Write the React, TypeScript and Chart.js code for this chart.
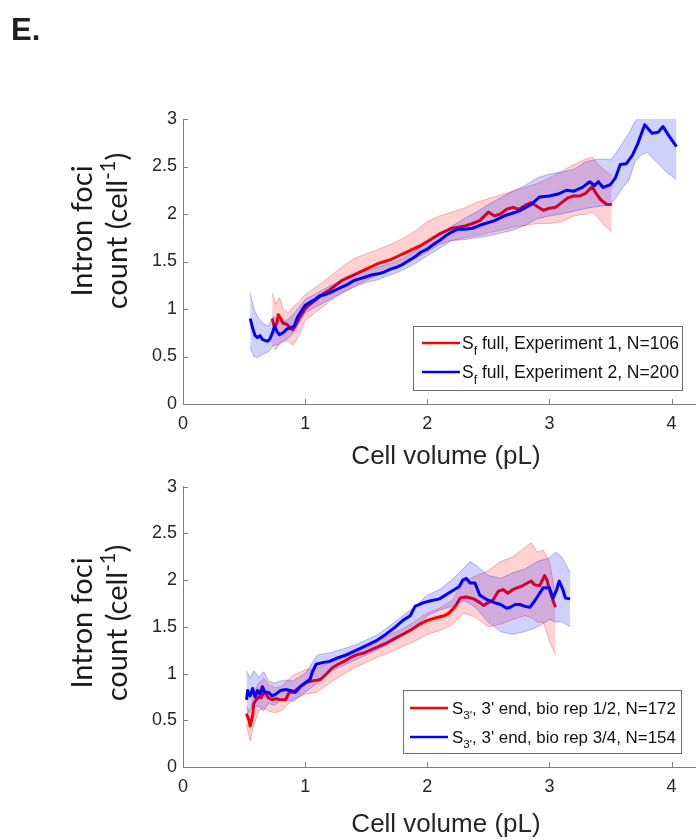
import React, { useEffect, useRef } from 'react';
import { Chart, registerables } from 'chart.js';

Chart.register(...registerables);

// ---------------- DATA ----------------
const X_TICKS = [0, 1, 2, 3, 4];
const Y_TICKS = [0, 0.5, 1, 1.5, 2, 2.5, 3];
const X_TITLE = 'Cell volume (pL)';
const Y_TITLE_1 = 'Intron foci';
const Y_TITLE_2 = 'count (cell';
const Y_TITLE_SUP = '-1';
const PANEL_LABEL = 'E.';

// Legend labels (main, subscript, rest)
const TOP_RED_LABEL = ['S', 'f', ' full, Experiment 1, N=106'];
const TOP_BLUE_LABEL = ['S', 'f', ' full, Experiment 2, N=200'];
const BOT_RED_LABEL = ['S', "3'", ", 3' end, bio rep 1/2, N=172"];
const BOT_BLUE_LABEL = ['S', "3'", ", 3' end, bio rep 3/4, N=154"];

// Top panel, red (Experiment 1)
const TOP_RED_X = [0.73,0.75,0.77,0.78,0.80,0.82,0.85,0.88,0.90,0.93,0.96,1.00,1.04,1.08,1.12,1.16,1.20,1.25,1.30,1.35,1.40,1.45,1.50,1.55,1.60,1.65,1.70,1.75,1.80,1.85,1.90,1.95,2.00,2.05,2.10,2.15,2.20,2.25,2.30,2.37,2.43,2.50,2.55,2.60,2.65,2.70,2.75,2.80,2.85,2.90,2.95,3.00,3.05,3.10,3.15,3.20,3.25,3.30,3.35,3.38,3.42,3.47,3.51];
const TOP_RED_Y = [0.90,0.80,0.86,0.94,0.90,0.85,0.84,0.80,0.78,0.85,0.92,1.00,1.05,1.09,1.13,1.17,1.20,1.25,1.30,1.33,1.36,1.39,1.42,1.45,1.48,1.50,1.52,1.55,1.58,1.61,1.64,1.67,1.71,1.75,1.79,1.82,1.85,1.86,1.87,1.90,1.93,2.02,1.98,2.00,2.05,2.07,2.05,2.09,2.12,2.08,2.04,2.06,2.07,2.12,2.17,2.19,2.19,2.22,2.29,2.22,2.15,2.10,2.10];
const TOP_RED_BAND_X = [0.73,0.76,0.79,0.82,0.86,0.90,0.95,1.00,1.10,1.20,1.30,1.40,1.50,1.60,1.70,1.80,1.90,2.00,2.10,2.20,2.30,2.40,2.50,2.60,2.70,2.80,2.90,3.00,3.10,3.20,3.30,3.35,3.40,3.45,3.51];
const TOP_RED_HI = [1.17,1.05,1.12,1.00,0.96,1.02,1.08,1.15,1.24,1.34,1.44,1.53,1.58,1.63,1.68,1.74,1.82,1.92,1.98,2.02,2.06,2.12,2.16,2.20,2.24,2.28,2.32,2.38,2.45,2.52,2.58,2.60,2.52,2.46,2.40];
const TOP_RED_LO = [0.62,0.57,0.64,0.66,0.66,0.62,0.72,0.88,0.98,1.08,1.16,1.24,1.30,1.36,1.42,1.47,1.53,1.60,1.68,1.72,1.75,1.77,1.80,1.83,1.86,1.88,1.90,1.90,1.92,1.98,2.00,2.02,1.96,1.88,1.81];

// Top panel, blue (Experiment 2)
const TOP_BLUE_X = [0.55,0.57,0.59,0.61,0.63,0.65,0.67,0.69,0.71,0.73,0.75,0.77,0.79,0.82,0.85,0.88,0.91,0.94,0.97,1.00,1.04,1.08,1.12,1.16,1.20,1.25,1.30,1.35,1.40,1.45,1.50,1.55,1.60,1.65,1.70,1.75,1.80,1.85,1.90,1.95,2.00,2.05,2.10,2.15,2.20,2.25,2.30,2.37,2.45,2.55,2.65,2.75,2.85,2.92,3.00,3.07,3.14,3.20,3.27,3.33,3.37,3.40,3.44,3.50,3.54,3.58,3.63,3.68,3.72,3.78,3.84,3.89,3.93,3.98,4.04];
const TOP_BLUE_Y = [0.90,0.80,0.72,0.70,0.72,0.68,0.67,0.66,0.68,0.74,0.82,0.76,0.73,0.75,0.79,0.80,0.82,0.92,0.98,1.04,1.07,1.10,1.14,1.15,1.17,1.20,1.23,1.26,1.30,1.32,1.34,1.36,1.37,1.39,1.42,1.44,1.47,1.51,1.55,1.60,1.63,1.68,1.72,1.77,1.81,1.84,1.84,1.85,1.89,1.93,1.99,2.03,2.10,2.18,2.19,2.21,2.25,2.24,2.28,2.34,2.30,2.34,2.28,2.31,2.38,2.52,2.53,2.62,2.73,2.94,2.85,2.86,2.92,2.82,2.71];
const TOP_BLUE_BAND_X = [0.55,0.58,0.61,0.65,0.70,0.74,0.78,0.82,0.87,0.92,1.00,1.10,1.20,1.30,1.40,1.50,1.60,1.70,1.80,1.90,2.00,2.10,2.20,2.30,2.40,2.50,2.60,2.70,2.80,2.90,3.00,3.10,3.20,3.30,3.40,3.50,3.55,3.60,3.65,3.70,3.75,3.80,3.85,3.90,3.95,4.00,4.04];
const TOP_BLUE_HI = [1.17,1.00,0.92,0.85,0.82,0.92,0.88,0.86,0.90,0.97,1.10,1.17,1.24,1.30,1.36,1.40,1.44,1.48,1.53,1.61,1.70,1.79,1.87,1.95,2.02,2.10,2.17,2.24,2.30,2.38,2.42,2.44,2.47,2.55,2.58,2.57,2.65,2.75,2.85,2.97,3.05,3.08,3.08,3.06,3.05,3.05,3.04];
const TOP_BLUE_LO = [0.60,0.50,0.49,0.52,0.55,0.62,0.62,0.66,0.70,0.78,0.96,1.03,1.10,1.17,1.23,1.28,1.31,1.36,1.41,1.48,1.56,1.64,1.72,1.73,1.75,1.77,1.80,1.83,1.88,1.95,1.98,2.00,2.03,2.06,2.08,2.10,2.18,2.28,2.35,2.55,2.62,2.65,2.58,2.52,2.45,2.40,2.36];

// Bottom panel, red (bio rep 1/2)
const BOT_RED_X = [0.52,0.54,0.55,0.57,0.58,0.60,0.62,0.64,0.66,0.68,0.70,0.73,0.76,0.80,0.84,0.87,0.90,0.95,1.00,1.05,1.10,1.13,1.17,1.22,1.27,1.32,1.37,1.42,1.48,1.53,1.60,1.67,1.74,1.80,1.87,1.94,2.00,2.08,2.14,2.18,2.23,2.27,2.32,2.38,2.43,2.46,2.50,2.54,2.58,2.62,2.66,2.70,2.74,2.78,2.82,2.85,2.88,2.92,2.96,2.98,3.00,3.03,3.05];
const BOT_RED_Y = [0.57,0.50,0.44,0.55,0.68,0.72,0.75,0.74,0.80,0.78,0.74,0.72,0.73,0.72,0.72,0.80,0.80,0.85,0.90,0.92,0.93,0.94,0.99,1.06,1.10,1.13,1.17,1.20,1.22,1.25,1.29,1.33,1.38,1.42,1.47,1.53,1.57,1.60,1.62,1.65,1.72,1.81,1.82,1.80,1.76,1.73,1.76,1.79,1.88,1.90,1.86,1.90,1.92,1.94,1.97,1.99,1.95,1.94,2.05,2.00,1.90,1.78,1.71];
const BOT_RED_BAND_X = [0.52,0.55,0.58,0.62,0.66,0.70,0.75,0.80,0.85,0.90,1.00,1.10,1.20,1.30,1.40,1.50,1.60,1.70,1.80,1.90,2.00,2.10,2.20,2.30,2.40,2.50,2.60,2.70,2.80,2.85,2.90,2.95,3.00,3.05];
const BOT_RED_HI = [0.65,0.58,0.80,0.90,0.95,0.88,0.85,0.86,0.92,0.98,1.04,1.06,1.12,1.20,1.26,1.31,1.36,1.42,1.48,1.56,1.65,1.70,1.78,1.98,2.05,2.10,2.20,2.25,2.35,2.40,2.30,2.32,2.20,1.85];
const BOT_RED_LO = [0.45,0.28,0.45,0.60,0.63,0.60,0.58,0.60,0.66,0.72,0.78,0.80,0.90,0.98,1.06,1.12,1.18,1.23,1.29,1.35,1.42,1.46,1.52,1.65,1.60,1.50,1.53,1.58,1.62,1.60,1.55,1.55,1.35,1.20];

// Bottom panel, blue (bio rep 3/4)
const BOT_BLUE_X = [0.52,0.53,0.55,0.57,0.59,0.61,0.63,0.65,0.67,0.70,0.73,0.76,0.80,0.84,0.88,0.92,0.96,1.00,1.04,1.06,1.09,1.15,1.20,1.27,1.34,1.42,1.50,1.58,1.66,1.74,1.80,1.86,1.90,1.97,2.03,2.10,2.16,2.21,2.26,2.29,2.32,2.35,2.39,2.43,2.49,2.55,2.60,2.65,2.68,2.72,2.76,2.80,2.84,2.88,2.92,2.95,3.00,3.03,3.06,3.08,3.11,3.13,3.17];
const BOT_BLUE_Y = [0.72,0.82,0.76,0.84,0.75,0.82,0.78,0.86,0.80,0.80,0.76,0.78,0.82,0.83,0.82,0.80,0.86,0.90,0.94,1.02,1.10,1.12,1.13,1.17,1.20,1.25,1.30,1.35,1.42,1.50,1.57,1.62,1.72,1.76,1.78,1.80,1.85,1.89,1.93,2.00,2.02,1.97,1.97,1.84,1.79,1.76,1.74,1.70,1.71,1.74,1.74,1.72,1.71,1.78,1.86,1.92,1.92,1.81,1.90,1.99,1.90,1.81,1.80];
const BOT_BLUE_BAND_X = [0.52,0.55,0.58,0.62,0.66,0.70,0.75,0.80,0.85,0.90,1.00,1.10,1.20,1.30,1.40,1.50,1.60,1.70,1.80,1.90,2.00,2.10,2.20,2.30,2.35,2.40,2.50,2.60,2.70,2.80,2.90,3.00,3.05,3.10,3.17];
const BOT_BLUE_HI = [1.03,0.95,1.03,0.96,1.02,0.92,0.90,0.92,0.93,0.92,1.00,1.20,1.22,1.26,1.30,1.36,1.42,1.52,1.62,1.72,1.84,1.90,2.00,2.13,2.20,2.16,2.05,2.02,2.08,2.12,2.20,2.24,2.30,2.25,2.08];
const BOT_BLUE_LO = [0.55,0.62,0.65,0.65,0.60,0.68,0.66,0.72,0.72,0.70,0.80,0.90,1.02,1.08,1.14,1.20,1.26,1.33,1.42,1.50,1.62,1.68,1.72,1.78,1.75,1.70,1.55,1.45,1.42,1.45,1.50,1.58,1.55,1.56,1.50];

// ---------------- STYLE ----------------
const SANS = '"Liberation Sans", Arial, Helvetica, sans-serif';
const LATO = 'Lato, "Noto Sans", sans-serif';
const AXIS = '#808080';
const TEXT = '#262626';
const RED = '#ff0000';
const BLUE = '#0000ff';
const RED_FILL = 'rgba(255,0,0,0.18)';
const BLUE_FILL = 'rgba(0,0,255,0.18)';
const RED_EDGE = 'rgba(255,0,0,0.35)';
const BLUE_EDGE = 'rgba(0,0,255,0.35)';

type Part = { t: string; s?: 'sub' | 'sup' };

function partFont(p: Part, size: number, family: string) {
  const fs = p.s ? size * 0.7 : size;
  return `${fs}px ${family}`;
}
function richWidth(ctx: CanvasRenderingContext2D, parts: Part[], size: number, family: string) {
  let w = 0;
  for (const p of parts) {
    ctx.font = partFont(p, size, family);
    w += ctx.measureText(p.t).width;
  }
  return w;
}
function drawRich(ctx: CanvasRenderingContext2D, parts: Part[], x: number, y: number, size: number, family: string) {
  let cx = x;
  for (const p of parts) {
    ctx.font = partFont(p, size, family);
    const dy = p.s === 'sub' ? size * 0.32 : p.s === 'sup' ? -size * 0.4 : 0;
    ctx.fillText(p.t, cx, y + dy);
    cx += ctx.measureText(p.t).width;
  }
}
const labelParts = (l: string[]): Part[] => [{ t: l[0] }, { t: l[1], s: 'sub' }, { t: l[2] }];

const pts = (xs: number[], ys: number[]) => xs.map((x, i) => ({ x, y: ys[i] }));

interface Series {
  x: number[]; y: number[]; bx: number[]; lo: number[]; hi: number[];
  color: string; fill: string; edge: string; label: string[];
}

interface PanelProps {
  top: number;
  height: number;
  plotTop: number;
  plotBottom: number;
  red: Series;
  blue: Series;
  legendBox: [number, number, number, number];
  legendRows: [number, number];
  sampleX: [number, number];
  textX: number;
  legendFont: number;
  yTitleCenter: number;
  xTitleBaseline: number;
  showLabel?: boolean;
}

function Panel(p: PanelProps) {
  const ref = useRef<HTMLCanvasElement>(null);
  useEffect(() => {
    const canvas = ref.current!;
    const mk = (s: Series) => [
      { data: pts(s.x, s.y), borderColor: s.color, borderWidth: 3, pointRadius: 0, fill: false, tension: 0, borderJoinStyle: 'round' as const },
      { data: pts(s.bx, s.lo), borderColor: s.edge, borderWidth: 0.8, pointRadius: 0, fill: false, tension: 0 },
      { data: pts(s.bx, s.hi), borderColor: s.edge, borderWidth: 0.8, pointRadius: 0, fill: '-1', backgroundColor: s.fill, tension: 0 },
    ];
    // First dataset is drawn on top: blue group above red group
    const datasets = [...mk(p.blue), ...mk(p.red)];

    const overlay = {
      id: 'overlay',
      afterDraw(chart: any) {
        const ctx: CanvasRenderingContext2D = chart.ctx;
        const { left, bottom } = chart.chartArea;
        const xs = chart.scales.x;
        const ys = chart.scales.y;
        ctx.save();
        // inward tick marks
        ctx.strokeStyle = AXIS;
        ctx.lineWidth = 1;
        xs.ticks.forEach((t: any) => {
          const px = Math.round(xs.getPixelForValue(t.value)) + 0.5;
          ctx.beginPath(); ctx.moveTo(px, bottom); ctx.lineTo(px, bottom - 5); ctx.stroke();
        });
        ys.ticks.forEach((t: any) => {
          const py = Math.round(ys.getPixelForValue(t.value)) + 0.5;
          ctx.beginPath(); ctx.moveTo(left, py); ctx.lineTo(left + 5, py); ctx.stroke();
        });
        // legend
        const [bx0, by0, bx1, by1] = p.legendBox;
        ctx.fillStyle = '#ffffff';
        ctx.fillRect(bx0, by0, bx1 - bx0, by1 - by0);
        ctx.strokeStyle = '#6e6e6e';
        ctx.strokeRect(bx0 + 0.5, by0 + 0.5, bx1 - bx0, by1 - by0);
        const rows = [p.red, p.blue];
        rows.forEach((s, i) => {
          const ry = p.legendRows[i];
          ctx.strokeStyle = s.color;
          ctx.lineWidth = 2.5;
          ctx.beginPath(); ctx.moveTo(p.sampleX[0], ry); ctx.lineTo(p.sampleX[1], ry); ctx.stroke();
          ctx.fillStyle = '#111';
          ctx.textAlign = 'left';
          ctx.textBaseline = 'alphabetic';
          drawRich(ctx, labelParts(s.label), p.textX, ry + 6, p.legendFont, SANS);
        });
        // x title
        ctx.fillStyle = TEXT;
        ctx.textAlign = 'center';
        ctx.font = `26px ${SANS}`;
        ctx.fillText(X_TITLE, 446, p.xTitleBaseline);
        // y title (two lines, rotated)
        ctx.textAlign = 'left';
        const l1: Part[] = [{ t: Y_TITLE_1 }];
        const l2: Part[] = [{ t: Y_TITLE_2 }, { t: Y_TITLE_SUP, s: 'sup' }, { t: ')' }];
        ctx.fillStyle = '#1a1a1a';
        [[l1, 92], [l2, 127]].forEach(([parts, bx]: any) => {
          ctx.save();
          ctx.translate(bx, p.yTitleCenter);
          ctx.rotate(-Math.PI / 2);
          const w = richWidth(ctx, parts, 29, LATO);
          drawRich(ctx, parts, -w / 2, 0, 29, LATO);
          ctx.restore();
        });
        if (p.showLabel) {
          ctx.font = `bold 31px ${SANS}`;
          ctx.fillStyle = '#231f20';
          ctx.fillText(PANEL_LABEL, 11, 40);
        }
        ctx.restore();
      },
    };

    const axisBase = {
      type: 'linear' as const,
      grid: { display: false, drawTicks: false },
      border: { display: true, color: AXIS, width: 1 },
    };
    const tickFont = { family: SANS, size: 18 };

    const chart = new Chart(canvas, {
      type: 'line',
      data: { datasets: datasets as any },
      options: {
        animation: false,
        responsive: false,
        maintainAspectRatio: false,
        devicePixelRatio: 1,
        layout: { padding: { top: p.plotTop, right: 0, left: 0, bottom: p.height - p.plotBottom - 30 } },
        plugins: { legend: { display: false }, tooltip: { enabled: false }, filler: { propagate: false } },
        scales: {
          x: {
            ...axisBase,
            min: 0,
            max: 4.2,
            afterBuildTicks: (s: any) => { s.ticks = X_TICKS.map((v) => ({ value: v })); },
            afterFit: (s: any) => { s.height = 30; },
            ticks: { color: TEXT, font: tickFont, padding: 9, maxRotation: 0, autoSkip: false, callback: (v: any) => String(v) },
          },
          y: {
            ...axisBase,
            min: 0,
            max: 3,
            afterBuildTicks: (s: any) => { s.ticks = Y_TICKS.map((v) => ({ value: v })); },
            afterFit: (s: any) => { s.width = 183; },
            ticks: { color: TEXT, font: tickFont, padding: 6, autoSkip: false, callback: (v: any) => String(v) },
          },
        },
      } as any,
      plugins: [overlay],
    });
    return () => chart.destroy();
  }, []);
  return (
    <canvas
      ref={ref}
      width={696}
      height={p.height}
      style={{ position: 'absolute', left: 0, top: p.top, width: 696, height: p.height, display: 'block' }}
    />
  );
}

const topRed: Series = { x: TOP_RED_X, y: TOP_RED_Y, bx: TOP_RED_BAND_X, lo: TOP_RED_LO, hi: TOP_RED_HI, color: RED, fill: RED_FILL, edge: RED_EDGE, label: TOP_RED_LABEL };
const topBlue: Series = { x: TOP_BLUE_X, y: TOP_BLUE_Y, bx: TOP_BLUE_BAND_X, lo: TOP_BLUE_LO, hi: TOP_BLUE_HI, color: BLUE, fill: BLUE_FILL, edge: BLUE_EDGE, label: TOP_BLUE_LABEL };
const botRed: Series = { x: BOT_RED_X, y: BOT_RED_Y, bx: BOT_RED_BAND_X, lo: BOT_RED_LO, hi: BOT_RED_HI, color: RED, fill: RED_FILL, edge: RED_EDGE, label: BOT_RED_LABEL };
const botBlue: Series = { x: BOT_BLUE_X, y: BOT_BLUE_Y, bx: BOT_BLUE_BAND_X, lo: BOT_BLUE_LO, hi: BOT_BLUE_HI, color: BLUE, fill: BLUE_FILL, edge: BLUE_EDGE, label: BOT_BLUE_LABEL };

export default function App() {
  return (
    <div style={{ position: 'absolute', left: 0, top: 0, width: 696, height: 840, background: '#ffffff', overflow: 'hidden' }}>
      <Panel
        top={0}
        height={470}
        plotTop={119}
        plotBottom={404}
        red={topRed}
        blue={topBlue}
        legendBox={[413, 326, 682, 390]}
        legendRows={[343, 372]}
        sampleX={[422, 460]}
        textX={462}
        legendFont={17.5}
        yTitleCenter={231}
        xTitleBaseline={464}
        showLabel
      />
      <Panel
        top={470}
        height={370}
        plotTop={13}
        plotBottom={297}
        red={botRed}
        blue={botBlue}
        legendBox={[403, 220, 681, 283]}
        legendRows={[238, 267]}
        sampleX={[410, 448]}
        textX={452}
        legendFont={16.9}
        yTitleCenter={153}
        xTitleBaseline={362}
      />
    </div>
  );
}
